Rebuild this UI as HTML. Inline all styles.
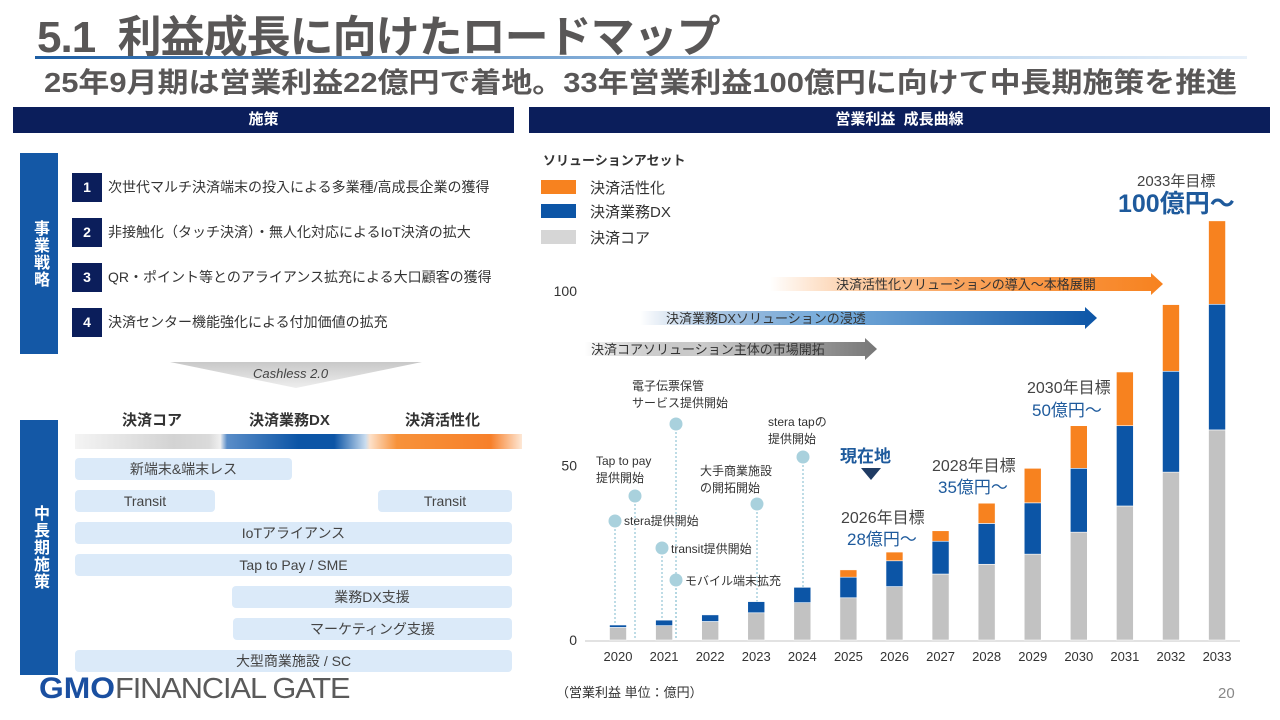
<!DOCTYPE html>
<html lang="ja"><head><meta charset="utf-8">
<style>
*{margin:0;padding:0;box-sizing:border-box}
body{width:1280px;height:720px;background:#fff;position:relative;overflow:hidden;font-family:"Liberation Sans","Noto Sans CJK JP",sans-serif;color:#333}
.a{position:absolute;white-space:nowrap}
.navy{background:#0b1e5b;color:#fff;font-weight:bold;font-size:15px;text-align:center;line-height:26px}
.num{width:30px;height:29px;background:#0b1e5b;color:#fff;font-weight:bold;font-size:14px;text-align:center;line-height:29px}
.st{font-size:14px;color:#333;line-height:29px}
.vbar{background:#1458a6;color:#fff;font-weight:bold;font-size:16px;display:flex;align-items:center;justify-content:center;writing-mode:vertical-rl;letter-spacing:1px}
.row{background:#dbeaf9;border-radius:4px;height:22px;line-height:22px;text-align:center;font-size:14px;color:#444}
.hl{font-weight:bold;font-size:15px;color:#333}
</style></head><body>
<div class="a" style="left:37px;top:1px;font-size:44px;font-weight:bold;color:#595757;letter-spacing:-1px">5.1&nbsp;&nbsp;利益成長に向けたロードマップ</div>
<div class="a" style="left:35px;top:56px;width:1212px;height:3px;background:linear-gradient(90deg,#1d5ea3,#9fc3e6 60%,#e8f1fa)"></div>
<div class="a" style="left:44px;top:61px;font-size:28px;font-weight:bold;color:#595757;transform-origin:left top;transform:scaleX(1.105)">25年9月期は営業利益22億円で着地。33年営業利益100億円に向けて中長期施策を推進</div>
<div class="a navy" style="left:13px;top:107px;width:501px;height:26px">施策</div>
<div class="a navy" style="left:529px;top:107px;width:741px;height:26px">営業利益&nbsp;&nbsp;成長曲線</div>

<div class="a vbar" style="left:20px;top:153px;width:38px;height:201px">事業戦略</div>
<div class="a num" style="left:72px;top:173px">1</div>
<div class="a st" style="left:108px;top:173px">次世代マルチ決済端末の投入による多業種/高成長企業の獲得</div>
<div class="a num" style="left:72px;top:218px">2</div>
<div class="a st" style="left:108px;top:218px">非接触化（タッチ決済）・無人化対応によるIoT決済の拡大</div>
<div class="a num" style="left:72px;top:263px">3</div>
<div class="a st" style="left:108px;top:263px">QR・ポイント等とのアライアンス拡充による大口顧客の獲得</div>
<div class="a num" style="left:72px;top:308px">4</div>
<div class="a st" style="left:108px;top:308px">決済センター機能強化による付加価値の拡充</div>

<svg class="a" style="left:160px;top:360px" width="270" height="30"><defs><linearGradient id="cg" x1="0" y1="0" x2="0" y2="1"><stop offset="0" stop-color="#c8c8c8"/><stop offset="1" stop-color="#eeeeee"/></linearGradient></defs><polygon points="10,2 262,2 136,28" fill="url(#cg)"/></svg>
<div class="a" style="left:253px;top:366px;font-size:13px;font-style:italic;color:#444">Cashless 2.0</div>

<div class="a hl" style="left:122px;top:409px">決済コア</div>
<div class="a hl" style="left:249px;top:409px">決済業務DX</div>
<div class="a hl" style="left:405px;top:409px">決済活性化</div>
<div class="a" style="left:75px;top:434px;width:447px;height:15px;background:linear-gradient(90deg,#f4f4f4 0%,#d3d3d3 22%,#dadada 30%,#f0f0f0 32.5%,#5a8dc8 34%,#0c55a6 50%,#0c55a6 58%,#c9dcef 65%,#fde0c8 66%,#f7923a 72%,#f7802a 93%,#fde8d6 100%)"></div>

<div class="a vbar" style="left:20px;top:420px;width:38px;height:255px">中長期施策</div>
<div class="a row" style="left:75px;top:458px;width:217px">新端末&amp;端末レス</div>
<div class="a row" style="left:75px;top:490px;width:140px">Transit</div>
<div class="a row" style="left:378px;top:490px;width:134px">Transit</div>
<div class="a row" style="left:75px;top:522px;width:437px">IoTアライアンス</div>
<div class="a row" style="left:75px;top:554px;width:437px">Tap to Pay / SME</div>
<div class="a row" style="left:232px;top:586px;width:280px">業務DX支援</div>
<div class="a row" style="left:233px;top:618px;width:279px">マーケティング支援</div>
<div class="a row" style="left:75px;top:650px;width:437px">大型商業施設 / SC</div>

<div class="a" style="left:39px;top:672px;font-size:29px;letter-spacing:-1px;transform-origin:left top;transform:scaleX(1.06)"><span style="color:#1a4fa0;font-weight:900;font-size:30px;letter-spacing:0">GMO</span><span style="color:#5a5a5a">FINANCIAL GATE</span></div>

<svg class="a" id="chart" style="left:0;top:0" width="1280" height="720"></svg>
<div class="a" style="left:556px;top:682px;font-size:13px;color:#333">（営業利益 単位：億円）</div>
<div class="a" style="left:1218px;top:685px;font-size:15px;color:#888">20</div>

<script>
const years=['2020','2021','2022','2023','2024','2025','2026','2027','2028','2029','2030','2031','2032','2033'];
const coreVals=[3.6,4.1,5.3,7.8,10.7,12.1,15.3,18.9,21.7,24.6,30.9,38.4,48.1,60.2];
const dxVals=[0.7,1.6,1.9,3.2,4.4,5.9,7.4,9.4,11.7,14.7,18.3,23.0,28.9,36.0];
const actVals=[0,0,0,0,0,2.1,2.5,3.0,5.8,9.9,12.2,15.4,19.1,23.9];
const yTicks=[0,50,100];
const NS='http://www.w3.org/2000/svg';
const svg=document.getElementById('chart');
const x0=618,step=46.08,bw=17,y0=640,ppu=3.49;
const xS=i=>x0+i*step;
const yS=v=>y0-v*ppu;
function mk(t,a,txt){const e=document.createElementNS(NS,t);for(const k in a)e.setAttribute(k,a[k]);if(txt!==undefined)e.textContent=txt;svg.appendChild(e);return e;}
svg.innerHTML='<defs><linearGradient id="go" x1="0" x2="1"><stop offset="0" stop-color="#f7821f" stop-opacity="0"/><stop offset="0.5" stop-color="#f9a25a"/><stop offset="1" stop-color="#f7821f"/></linearGradient><linearGradient id="gb" x1="0" x2="1"><stop offset="0" stop-color="#0c55a6" stop-opacity="0"/><stop offset="0.4" stop-color="#7aaedc"/><stop offset="1" stop-color="#0c55a6"/></linearGradient><linearGradient id="gg" x1="0" x2="1"><stop offset="0" stop-color="#777" stop-opacity="0"/><stop offset="0.4" stop-color="#ccc"/><stop offset="1" stop-color="#777"/></linearGradient></defs>';
let ax=mk('line',{x1:585,y1:y0+1,x2:1240,y2:y0+1,stroke:'#d9d9d9','stroke-width':1.5});

yTicks.forEach(t=>{const e=mk('text',{x:577,y:yS(t)+5,'text-anchor':'end','font-size':14,fill:'#333'},String(t));
});
years.forEach((yr,i)=>{const e=mk('text',{x:xS(i),y:661,'text-anchor':'middle','font-size':13,fill:'#333'},yr);
});
function arrow(x1,x2,yc,fill,txt,tx,name){const h=14,hw=11,hl=12;
const p=mk('polygon',{points:`${x1},${yc-h/2} ${x2-hl},${yc-h/2} ${x2-hl},${yc-hw} ${x2},${yc} ${x2-hl},${yc+hw} ${x2-hl},${yc+h/2} ${x1},${yc+h/2}`,fill:fill});

const t=mk('text',{x:tx,y:yc+5,'font-size':13,fill:'#333'},txt);
}
arrow(770,1163,284,'url(#go)','決済活性化ソリューションの導入～本格展開',836,'activation-arrow');
arrow(640,1097,318,'url(#gb)','決済業務DXソリューションの浸透',666,'dx-arrow');
arrow(585,877,349,'url(#gg)','決済コアソリューション主体の市場開拓',591,'core-arrow');
function ms(cx,cy,lines,lx,ly,name){const l=mk('line',{x1:cx,y1:cy,x2:cx,y2:y0,stroke:'#a9d1dd','stroke-width':1.5,'stroke-dasharray':'2,2'});

const c=mk('circle',{cx:cx,cy:cy,r:6.5,fill:'#a9d1dd'});
lines.forEach((s,k)=>{const t=mk('text',{x:lx,y:ly+k*17,'font-size':12,fill:'#333'},s);});}
ms(676,424,['電子伝票保管','サービス提供開始'],632,390,'e-slip-milestone');
ms(635,496,['Tap to pay','提供開始'],596,465,'tap-to-pay-milestone');
ms(615,521,['stera提供開始'],624,525,'stera-milestone');
ms(662,548,['transit提供開始'],671,553,'transit-milestone');
ms(676,580,['モバイル端末拡充'],685,585,'mobile-milestone');
ms(757,504,['大手商業施設','の開拓開始'],700,475,'commercial-milestone');
ms(803,457,['stera tapの','提供開始'],768,426,'stera-tap-milestone');
years.forEach((yr,i)=>{const x=xS(i)-bw/2;
const segs=[[0,coreVals[i],'#c2c2c2','bar-core-'+yr],[coreVals[i],coreVals[i]+dxVals[i],'#0c55a6','bar-dx-'+yr],[coreVals[i]+dxVals[i],coreVals[i]+dxVals[i]+actVals[i],'#f7821f','bar-activation-'+yr]];
segs.forEach(s=>{if(s[1]-s[0]<=0)return;const r=mk('rect',{x:x,y:yS(s[1]),width:bw,height:yS(s[0])-yS(s[1]),fill:s[2],stroke:'#fff','stroke-width':0.6});
});});
function txt(x,y,s,size,fill,w,name){const t=mk('text',{x:x,y:y,'font-size':size,fill:fill,'font-weight':w},s);}
txt(840,462,'現在地',17,'#1e5a9c','bold','current-position');
const tri=mk('polygon',{points:'861,468 881,468 871,480',fill:'#1f3b63'});
txt(841,523,'2026年目標',16,'#444','normal','target-2026');
txt(847,545,'28億円～',17,'#1e5a9c','normal','target-2026-value');
txt(932,471,'2028年目標',16,'#444','normal','target-2028');
txt(938,493,'35億円～',17,'#1e5a9c','normal','target-2028-value');
txt(1027,393,'2030年目標',16,'#444','normal','target-2030');
txt(1032,416,'50億円～',17,'#1e5a9c','normal','target-2030-value');
txt(1137,186,'2033年目標',15,'#444','normal','target-2033');
txt(1118,212,'100億円～',25,'#1e5a9c','bold','target-2033-value');
txt(543,165,'ソリューションアセット',13,'#333','bold','legend-title');
[['#f7821f','決済活性化',180],['#0c55a6','決済業務DX',204],['#d6d6d6','決済コア',230]].forEach(l=>{
const r=mk('rect',{x:541,y:l[2],width:35,height:14,fill:l[0]});
txt(590,l[2]+13,l[1],15,'#333','normal','legend-entry');});
</script>
</body></html>
